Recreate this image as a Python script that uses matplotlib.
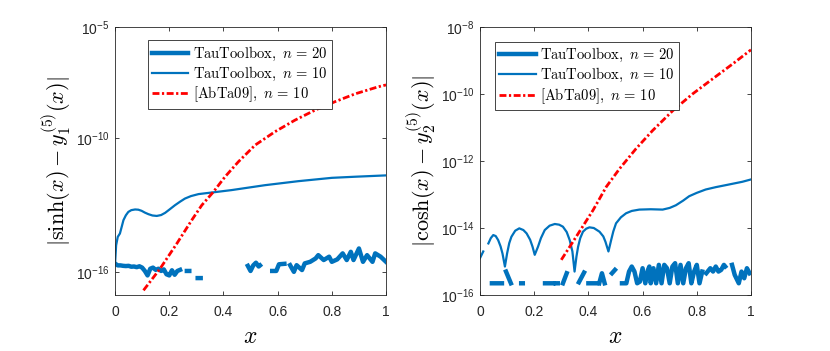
import numpy as np
import matplotlib.pyplot as plt

plt.rcParams['font.family'] = ['Liberation Sans', 'DejaVu Sans']
plt.rcParams['mathtext.fontset'] = 'cm'

# exponents (y = 10**e), nan = gap in the curve
# left panel: sinh
x20_sinh = [0.00, 0.01, 0.02, 0.03, 0.04, 0.05, 0.06, 0.07, 0.08, 0.09, 0.10, 0.11, 0.12,
            0.13, 0.14, 0.15, 0.16, 0.17, 0.18, 0.19, 0.20, 0.21, 0.22, 0.23, 0.24, np.nan,
            0.265, 0.274, np.nan, 0.305, 0.316, np.nan,
            0.49, 0.50, 0.51, 0.52, 0.53, 0.535, np.nan,
            0.58, 0.595, 0.605, 0.625, np.nan,
            0.646, 0.66, 0.67, 0.69, 0.70, 0.72, 0.74, 0.75, 0.77, 0.79, 0.80, 0.82, 0.84,
            0.855, 0.87, 0.88, 0.90, 0.915, 0.93, 0.95, 0.96, 0.98, 1.00]
e20_sinh = [-15.62, -15.70, -15.70, -15.72, -15.73, -15.72, -15.76, -15.75, -15.78, -15.74, -15.80,
            -15.95, -16.15, -15.85, -15.80, -15.90, -15.85, -15.95, -15.88, -16.10, -16.15, -15.92,
            -16.12, -15.95, -15.90, np.nan,
            -15.95, -15.95, np.nan, -16.27, -16.27, np.nan,
            -15.72, -15.95, -15.70, -15.58, -15.75, -15.70, np.nan,
            -15.95, -15.95, -15.65, -15.63, np.nan,
            -15.69, -15.99, -15.69, -15.91, -15.61, -15.54, -15.39, -15.24, -15.46, -15.31, -15.54,
            -15.43, -15.16, -15.46, -15.09, -15.46, -14.94, -15.54, -15.24, -15.54, -15.16, -15.31,
            -15.54]

x10_sinh = [0.0, 0.004, 0.01, 0.018, 0.025, 0.031, 0.04, 0.049, 0.06, 0.074, 0.086, 0.098,
            0.11, 0.123, 0.138, 0.154, 0.17, 0.185, 0.20, 0.221, 0.24, 0.258, 0.28, 0.308,
            0.335, 0.363, 0.43, 0.553, 0.676, 0.80, 0.886, 1.00]
e10_sinh = [-15.65, -14.80, -14.42, -14.27, -13.95, -13.67, -13.45, -13.30, -13.22, -13.19,
            -13.20, -13.25, -13.33, -13.40, -13.46, -13.48, -13.44, -13.34, -13.20, -13.00,
            -12.84, -12.70, -12.59, -12.50, -12.46, -12.42, -12.32, -12.10, -11.92, -11.77,
            -11.72, -11.66]

xab_sinh = [0.105, 0.166, 0.228, 0.283, 0.32, 0.363, 0.406, 0.455, 0.517, 0.59, 0.664, 0.738,
            0.812, 0.886, 0.972, 1.00]
eab_sinh = [-16.82, -15.85, -14.72, -13.67, -13.00, -12.40, -11.72, -11.05, -10.30, -9.70,
            -9.18, -8.73, -8.35, -8.00, -7.68, -7.60]

# right panel: cosh
x20_cosh = [0.044, 0.081, np.nan, 0.096, 0.114, np.nan, 0.152, 0.158, np.nan, 0.24, 0.27, np.nan,
            0.28, 0.287, np.nan, 0.306, 0.32, np.nan, 0.365, 0.384, np.nan, 0.40, 0.43, np.nan,
            0.44, 0.45, 0.46, np.nan, 0.487, 0.498, np.nan,
            0.524, 0.54, 0.55, 0.56, 0.57, 0.58, 0.59, 0.60, 0.61, 0.62, 0.625, 0.63, 0.64, 0.65,
            0.66, 0.67, 0.68, 0.69, 0.70, 0.71, 0.72, 0.73, 0.74, 0.75, 0.76, 0.77, 0.78, 0.79,
            0.80, 0.81, 0.82, np.nan,
            0.835, 0.85, 0.86, 0.87, 0.88, 0.89, 0.90, 0.905, np.nan,
            0.93, 0.94, 0.955, 0.965, 0.975, 0.985, 0.995]
e20_cosh = [-15.65, -15.65, np.nan, -15.30, -15.65, np.nan, -15.65, -15.65, np.nan, -15.65, -15.65,
            np.nan, -15.65, -15.65, np.nan, -15.65, -15.35, np.nan, -15.62, -15.33, np.nan,
            -15.65, -15.65, np.nan, -15.65, -15.35, -15.65, np.nan, -15.35, -15.25, np.nan,
            -15.65, -15.65, -15.30, -15.15, -15.30, -15.65, -15.60, -15.20, -15.65, -15.25,
            -15.15, -15.65, -15.20, -15.65, -15.10, -15.65, -15.10, -15.20, -15.65, -15.15,
            -15.05, -15.65, -15.10, -15.65, -15.20, -15.05, -15.65, -15.30, -15.10, -15.65,
            -15.30, np.nan,
            -15.35, -15.20, -15.30, -15.15, -15.30, -15.25, -15.10, -15.15, np.nan,
            -15.10, -15.40, -15.65, -15.30, -15.50, -15.20, -15.35]

x10_cosh = [0.0, 0.012, np.nan, 0.031, 0.04, 0.049, 0.058, 0.067, 0.076, 0.083, 0.092,
            0.10, 0.108, 0.116, 0.13, 0.145, 0.16, 0.172, 0.185, 0.194, 0.202,
            0.214, 0.225, 0.239, 0.257, 0.276, 0.292, 0.306, 0.32, 0.331, 0.341, 0.349,
            0.356, 0.362, 0.37, 0.38, 0.392, 0.404, 0.42, 0.441, 0.455, 0.463, 0.474,
            0.484, 0.492, 0.502, 0.52, 0.539, 0.56, 0.588, 0.63, 0.674, 0.70, 0.723, 0.75,
            0.772, 0.80, 0.833, 0.87, 0.907, 0.968, 1.0]
e10_cosh = [-14.90, -14.70, np.nan, -14.46, -14.30, -14.21, -14.24, -14.36, -14.55, -14.76,
            -15.15, -14.76, -14.45, -14.26, -14.08, -14.01, -14.06, -14.16, -14.35, -14.56,
            -14.80, -14.56, -14.30, -14.06, -13.93, -13.88, -13.90, -13.96, -14.12, -14.36,
            -14.70, -15.30, -14.85, -14.56, -14.30, -14.11, -14.02, -13.98, -14.00, -14.11,
            -14.25, -14.41, -14.70, -14.36, -14.10, -13.86, -13.68, -13.56, -13.49, -13.45,
            -13.44, -13.45, -13.40, -13.32, -13.18, -13.05, -12.95, -12.85, -12.78, -12.72,
            -12.62, -12.55]

xab_cosh = [0.30, 0.355, 0.417, 0.466, 0.515, 0.576, 0.637, 0.711, 0.784, 0.858, 0.931, 1.00]
eab_cosh = [-14.95, -14.26, -13.47, -12.77, -12.23, -11.63, -11.09, -10.50, -10.00, -9.55,
            -9.11, -8.68]

blue = '#0072BD'
grey = '#262626'


def panel(ax, data, ylim, yticks, ylabel, leg_anchor):
    x20, e20, x10, e10, xab, eab = data
    ax.plot(x20, 10 ** np.array(e20), color=blue, lw=3.2,
            label=r'$\mathrm{TauToolbox},\ n\,=\,20$')
    ax.plot(x10, 10 ** np.array(e10), color=blue, lw=1.6,
            label=r'$\mathrm{TauToolbox},\ n\,=\,10$')
    ax.plot(xab, 10 ** np.array(eab), color='red', lw=2.0, dashes=(2.5, 0.9, 0.8, 0.9),
            label=r'$\mathrm{[AbTa09]},\ n\,=\,10$')
    ax.set_yscale('log')
    ax.set_xlim(0, 1)
    ax.set_ylim(*ylim)
    ax.set_yticks([10.0 ** k for k in yticks])
    ax.set_yticklabels([r'$\mathregular{10^{%d}}$' % k for k in yticks])
    ax.minorticks_off()
    ax.set_xticks([0, 0.2, 0.4, 0.6, 0.8, 1])
    ax.set_xticklabels(['0', '0.2', '0.4', '0.6', '0.8', '1'])
    ax.tick_params(direction='in', top=True, right=True, labelsize=10, colors=grey,
                   length=3, width=0.6)
    ax.tick_params(axis='x', pad=7)
    ax.tick_params(axis='y', pad=4)
    for s in ax.spines.values():
        s.set_color(grey)
        s.set_linewidth(0.6)
    ax.set_xlabel('$x$', fontsize=17, labelpad=5)
    ax.set_ylabel(ylabel, fontsize=16, labelpad=2)
    leg = ax.legend(loc='upper left', bbox_to_anchor=leg_anchor, fontsize=10.5,
                    fancybox=False, framealpha=1, edgecolor=grey, handlelength=2.5,
                    borderpad=0.3, labelspacing=0.12, handletextpad=0.3, borderaxespad=0)
    leg.get_frame().set_linewidth(0.6)


fig = plt.figure(figsize=(8.3, 3.51), dpi=100)
ax1 = fig.add_axes([0.1386, 0.1595, 0.3265, 0.7635])
ax2 = fig.add_axes([0.5783, 0.1595, 0.3265, 0.7635])

panel(ax1, (x20_sinh, e20_sinh, x10_sinh, e10_sinh, xab_sinh, eab_sinh),
      (10 ** -17.03, 1e-5), [-16, -10, -5],
      r'$|\sinh(x) - y_1^{(5)}(x)|$', (0.12, 0.95))
panel(ax2, (x20_cosh, e20_cosh, x10_cosh, e10_cosh, xab_cosh, eab_cosh),
      (1e-16, 1e-8), [-16, -14, -12, -10, -8],
      r'$|\cosh(x) - y_2^{(5)}(x)|$', (0.055, 0.945))

fig.savefig('out.png', dpi=100)
